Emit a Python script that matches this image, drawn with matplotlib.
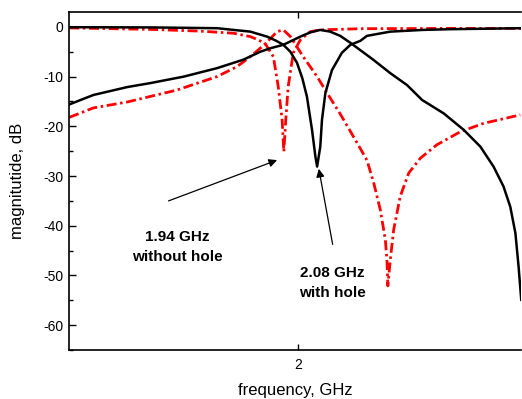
import matplotlib
matplotlib.use("Agg")
import matplotlib.pyplot as plt

plt.rcParams['font.family'] = ['Liberation Sans', 'DejaVu Sans']
plt.rcParams['axes.unicode_minus'] = False

# Data (frequency in GHz, magnitude in dB)
black_s21_f = [1.059, 1.158, 1.298, 1.393, 1.530, 1.667, 1.775, 1.845, 1.886, 1.940, 2.010, 2.051,
               2.092, 2.133, 2.174, 2.216, 2.310, 2.380, 2.449, 2.511, 2.600, 2.682, 2.751,
               2.805, 2.846, 2.874, 2.895, 2.908, 2.919]
black_s21_db = [-15.6, -13.7, -12.1, -11.3, -10.0, -8.3, -6.6, -5.0, -4.3, -3.6, -1.95, -1.1,
                -0.6, -0.95, -1.8, -3.2, -6.6, -9.3, -11.7, -14.7, -17.4, -20.7, -24.1,
                -28.1, -32.1, -36.2, -41.5, -48.2, -54.9]

black_s11_f = [1.059, 1.393, 1.667, 1.804, 1.873, 1.911, 1.940, 1.969, 1.996, 2.018, 2.037,
               2.058, 2.072, 2.079, 2.092, 2.099, 2.113, 2.140, 2.181, 2.216, 2.257, 2.284,
               2.380, 2.516, 2.627, 2.919]
black_s11_db = [-0.06, -0.1, -0.26, -0.95, -1.95, -2.8, -3.6, -5.0, -7.2, -10.3, -14.0,
                -20.7, -26.1, -28.1, -24.1, -18.7, -13.3, -8.7, -5.2, -3.6, -2.8, -1.8,
                -0.95, -0.6, -0.46, -0.26]

red_s21_f = [1.059, 1.158, 1.298, 1.502, 1.667, 1.749, 1.804, 1.866, 1.914, 1.940, 1.969,
             2.022, 2.079, 2.120, 2.174, 2.243, 2.284, 2.312, 2.339, 2.360, 2.367, 2.370,
             2.380, 2.394, 2.421, 2.456, 2.504, 2.572, 2.668, 2.764, 2.915]
red_s21_db = [-18.2, -16.3, -15.1, -12.7, -10.0, -8.0, -6.0, -3.4, -0.95, -0.6, -1.95,
              -6.0, -10.0, -13.3, -17.5, -23.3, -26.8, -31.4, -36.8, -42.9, -47.5, -52.1,
              -46.9, -40.8, -34.1, -29.4, -26.4, -23.7, -21.1, -19.4, -17.7]

red_s11_f = [1.059, 1.393, 1.598, 1.735, 1.804, 1.837, 1.866, 1.899, 1.919, 1.935, 1.942,
             1.950, 1.960, 1.981, 2.010, 2.051, 2.092, 2.257, 2.627, 2.919]
red_s11_db = [-0.2, -0.5, -0.85, -1.27, -1.95, -2.6, -3.4, -6.0, -12.0, -18.7, -25.1,
              -18.7, -12.0, -5.2, -2.6, -0.95, -0.6, -0.36, -0.3, -0.3]

W, H = 522, 399
fig = plt.figure(figsize=(W / 100, H / 100), dpi=100)
ax = fig.add_axes([69 / W, 1 - 350 / H, 452 / W, 338 / H])

red_dash = dict(color='#ff0000', lw=2.0, dashes=[3.6, 1.3, 0.9, 1.3])
ax.plot(red_s11_f, red_s11_db, **red_dash)
ax.plot(red_s21_f, red_s21_db, **red_dash)
ax.plot(black_s11_f, black_s11_db, color='black', lw=1.8)
ax.plot(black_s21_f, black_s21_db, color='black', lw=1.8)

ax.set_xlim(1.058, 2.918)
ax.set_ylim(-65, 3)
ax.set_xticks([2])
ax.set_xticklabels(['2'])
ax.set_yticks([0, -10, -20, -30, -40, -50, -60])
ax.set_yticks([-5, -15, -25, -35, -45, -55, -65], minor=True)

ax.spines['right'].set_visible(False)
for s in ['left', 'bottom', 'top']:
    ax.spines[s].set_linewidth(1.2)

ax.tick_params(axis='y', which='major', direction='in', length=5, width=1, labelsize=10, pad=4)
ax.tick_params(axis='y', which='minor', direction='in', length=3, width=1)
ax.tick_params(axis='x', which='major', direction='in', length=4, width=1, labelsize=10, pad=6,
               top=True)

ax.set_xlabel('frequency, GHz', fontsize=12, labelpad=8)
ax.set_ylabel('magnitutide, dB', fontsize=12, labelpad=13)

ax.annotate('', xy=(1.925, -26.6), xytext=(1.457, -35.2),
            arrowprops=dict(arrowstyle='-|>', color='black', lw=0.9, mutation_scale=12))
ax.text(1.504, -44.3, '1.94 GHz\nwithout hole', ha='center', va='center', fontsize=11,
        fontweight='bold', linespacing=1.5)

ax.annotate('', xy=(2.084, -28.0), xytext=(2.145, -44.3),
            arrowprops=dict(arrowstyle='-|>', color='black', lw=0.9, mutation_scale=12))
ax.text(2.142, -51.5, '2.08 GHz\nwith hole', ha='center', va='center', fontsize=11,
        fontweight='bold', linespacing=1.5)

fig.savefig('out.png', dpi=100)
